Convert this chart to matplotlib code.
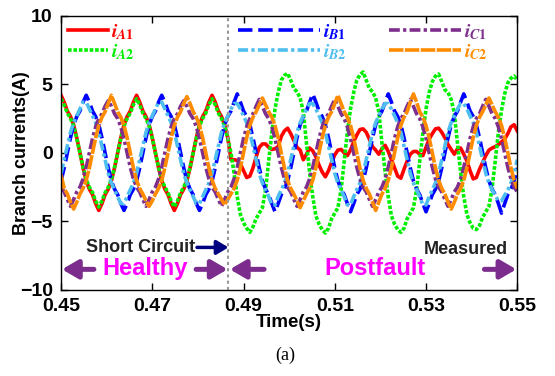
import numpy as np
import matplotlib
matplotlib.use("Agg")
import matplotlib.pyplot as plt

# ---------------- data ----------------
t_start, t_end = 0.45, 0.55
n_samples = 146
fault_time = 0.4867

iA1 = [
    4.2, 3.7, 3.05, 2.65, 2.05, 1.1, 0.0, -1.1, -2.05, -2.65, -3.05, -3.7,
    -4.2, -3.7, -3.05, -2.65, -2.05, -1.1, 0.0, 1.1, 2.05, 2.65, 3.05, 3.7,
    4.2, 3.7, 3.05, 2.65, 2.05, 1.1, 0.0, -1.1, -2.05, -2.65, -3.05, -3.7,
    -4.2, -3.7, -3.05, -2.65, -2.05, -1.1, 0.0, 1.1, 2.05, 2.65, 3.05, 3.7,
    4.2, 3.7, 3.05, 2.65, 2.05, 1.1,
    -0.5, -0.5, -0.55, -0.8, -1.3, -1.8, -1.7, -1.1, -0.3, 0.4, 0.65, 0.65,
    0.4, 0.25, 0.3, 0.45, 1.2, 1.6, 1.8,
    1.4, 0.9, 0.4, 0.2, -0.5, -0.1, 0.35, 0.15, -0.3, -0.9, -1.4, -1.75,
    -1.3, -0.7, -0.15, 0.2, 0.25, 0.0, -0.2, 0.2, 0.8, 1.3, 1.7, 1.75,
    1.5, 1.0, 0.45, 0.2, -0.1, 0.3, 0.55, 0.1, -0.5, -1.1, -1.7, -1.85,
    -1.2, -0.6, -0.1, 0.1, 0.1, -0.1, -0.2, 0.4, 1.0, 1.4, 1.75, 1.8,
    1.5, 1.1, 0.6, 0.25, -0.1, 0.3, 0.35, -0.1, -0.6, -1.3, -1.9, -1.8,
    -1.2, -0.7, -0.2, 0.2, 0.35, 0.45, 0.6, 0.8, 1.0, 1.4, 1.9, 2.05,
    1.6,
]

iA2 = [
    3.95, 3.5, 2.9, 2.5, 1.95, 1.05, 0.0, -1.05, -1.95, -2.5, -2.9, -3.5,
    -3.95, -3.5, -2.9, -2.5, -1.95, -1.05, 0.0, 1.05, 1.95, 2.5, 2.9, 3.5,
    3.95, 3.5, 2.9, 2.5, 1.95, 1.05, 0.0, -1.05, -1.95, -2.5, -2.9, -3.5,
    -3.95, -3.5, -2.9, -2.5, -1.95, -1.05, 0.0, 1.05, 1.95, 2.5, 2.9, 3.5,
    3.95, 3.5, 2.9, 2.5, 1.95, 1.05,
    0.0, -1.5, -3.2, -4.5, -5.1, -5.5, -5.8, -5.4, -4.8, -4.4, -4.0, -2.7,
    -0.6, 1.5, 3.2, 4.4, 5.3, 5.65, 5.8,
    5.3, 4.7, 4.45, 4.0, 3.0, 0.7, -1.4, -3.2, -4.6, -5.2, -5.6, -5.85,
    -5.5, -4.8, -4.4, -4.0, -2.7, -0.6, 1.5, 3.2, 4.4, 5.3, 5.7, 5.9,
    5.3, 4.7, 4.45, 4.0, 3.0, 0.7, -1.4, -3.2, -4.6, -5.2, -5.6, -5.8,
    -5.5, -4.8, -4.4, -4.0, -2.7, -0.6, 1.5, 3.2, 4.4, 5.2, 5.6, 5.75,
    5.2, 4.6, 4.4, 3.9, 2.9, 0.7, -1.4, -3.2, -4.5, -5.1, -5.5, -5.6,
    -5.3, -4.7, -4.3, -3.9, -2.6, -0.6, 1.5, 3.1, 4.3, 5.1, 5.45, 5.6,
    5.3,
]

iB1 = [
    -2.05, -1.1, 0.0, 1.1, 2.05, 2.65, 3.05, 3.7, 4.2, 3.7, 3.05, 2.65,
    2.05, 1.1, 0.0, -1.1, -2.05, -2.65, -3.05, -3.7, -4.2, -3.7, -3.05, -2.65,
    -2.05, -1.1, 0.0, 1.1, 2.05, 2.65, 3.05, 3.7, 4.2, 3.7, 3.05, 2.65,
    2.05, 1.1, 0.0, -1.1, -2.05, -2.65, -3.05, -3.7, -4.2, -3.7, -3.05, -2.65,
    -2.05, -1.1, 0.0, 1.1, 2.05, 2.65, 3.05, 3.7, 4.3, 3.7, 3.05, 2.65,
    2.05, 1.1, 0.0, -1.1, -2.05, -2.65, -3.05, -3.7, -4.3, -3.7, -3.05, -2.65,
    -2.05, -1.1, 0.0, 1.1, 2.05, 2.65, 3.05, 3.7, 4.3, 3.7, 3.05, 2.65,
    2.05, 1.1, 0.0, -1.1, -2.05, -2.65, -3.05, -3.7, -4.3, -3.7, -3.05, -2.65,
    -2.05, -1.1, 0.0, 1.1, 2.05, 2.65, 3.05, 3.7, 4.3, 3.7, 3.05, 2.65,
    2.05, 1.1, 0.0, -1.1, -2.05, -2.65, -3.05, -3.7, -4.3, -3.7, -3.05, -2.65,
    -2.05, -1.1, 0.0, 1.1, 2.05, 2.65, 3.05, 3.7, 4.3, 3.7, 3.05, 2.65,
    2.05, 1.1, 0.0, -1.1, -2.05, -2.65, -3.05, -3.7, -4.4, -3.7, -3.05, -2.65,
    -2.05, -1.1,
]

iB2 = [
    -1.5, -0.5, 0.5, 1.5, 2.2, 2.7, 3.2, 3.7, 3.7, 3.2, 2.7, 2.2,
    1.5, 0.5, -0.5, -1.5, -2.2, -2.7, -3.2, -3.7, -3.7, -3.2, -2.7, -2.2,
    -1.5, -0.5, 0.5, 1.5, 2.2, 2.7, 3.2, 3.7, 3.7, 3.2, 2.7, 2.2,
    1.5, 0.5, -0.5, -1.5, -2.2, -2.7, -3.2, -3.7, -3.7, -3.2, -2.7, -2.2,
    -1.5, -0.5, 0.5, 1.5, 2.2, 2.7, 3.2, 3.6, 3.6, 3.2, 2.7, 2.2,
    1.5, 0.5, -0.5, -1.5, -2.2, -2.7, -3.2, -3.8, -3.8, -3.2, -2.7, -2.2,
    -1.5, -0.5, 0.5, 1.5, 2.2, 2.7, 3.2, 3.6, 3.6, 3.2, 2.7, 2.2,
    1.5, 0.5, -0.5, -1.5, -2.2, -2.7, -3.2, -3.8, -3.8, -3.2, -2.7, -2.2,
    -1.5, -0.5, 0.5, 1.5, 2.2, 2.7, 3.2, 3.6, 3.6, 3.2, 2.7, 2.2,
    1.5, 0.5, -0.5, -1.5, -2.2, -2.7, -3.2, -3.8, -3.8, -3.2, -2.7, -2.2,
    -1.5, -0.5, 0.5, 1.5, 2.2, 2.7, 3.2, 3.6, 3.6, 3.2, 2.7, 2.2,
    1.5, 0.5, -0.5, -1.5, -2.2, -2.7, -3.1, -3.5, -3.5, -3.1, -2.7, -2.2,
    -1.5, -0.5,
]

iC1 = [
    -2.5, -2.85, -3.4, -3.9, -3.4, -2.85, -2.5, -1.9, -1.05, 0.0, 1.05, 1.9,
    2.5, 2.85, 3.4, 3.8, 3.4, 2.85, 2.5, 1.9, 1.05, 0.0, -1.05, -1.9,
    -2.5, -2.85, -3.4, -3.9, -3.4, -2.85, -2.5, -1.9, -1.05, 0.0, 1.05, 1.9,
    2.5, 2.85, 3.4, 3.8, 3.4, 2.85, 2.5, 1.9, 1.05, 0.0, -1.05, -1.9,
    -2.5, -2.85, -3.4, -3.9, -3.4, -2.85, -2.5, -1.9, -1.05, 0.0, 1.05, 1.9,
    2.5, 2.85, 3.4, 3.9, 3.4, 2.85, 2.5, 1.9, 1.05, 0.0, -1.05, -1.9,
    -2.5, -2.85, -3.4, -3.9, -3.4, -2.85, -2.5, -1.9, -1.05, 0.0, 1.05, 1.9,
    2.5, 2.85, 3.4, 3.9, 3.4, 2.85, 2.5, 1.9, 1.05, 0.0, -1.05, -1.9,
    -2.5, -2.85, -3.4, -3.9, -3.4, -2.85, -2.5, -1.9, -1.05, 0.0, 1.05, 1.9,
    2.5, 2.85, 3.4, 3.9, 3.4, 2.85, 2.5, 1.9, 1.05, 0.0, -1.05, -1.9,
    -2.5, -2.85, -3.4, -3.9, -3.4, -2.85, -2.5, -1.9, -1.05, 0.0, 1.05, 1.9,
    2.5, 2.85, 3.4, 3.9, 3.4, 2.85, 2.5, 1.9, 1.05, 0.0, -1.05, -1.9,
    -2.5, -2.85,
]

iC2 = [
    -1.6, -2.6, -3.0, -3.6, -4.1, -3.6, -3.0, -2.6, -2.0, -1.1, 0.0, 1.1,
    2.0, 2.6, 3.0, 3.6, 4.2, 3.6, 3.0, 2.6, 2.0, 1.1, 0.0, -1.1,
    -2.0, -2.6, -3.0, -3.5, -3.9, -3.5, -3.0, -2.6, -2.0, -1.1, 0.0, 1.1,
    2.0, 2.6, 3.0, 3.6, 4.1, 3.6, 3.0, 2.6, 2.0, 1.1, 0.0, -1.1,
    -2.0, -2.6, -3.0, -3.4, -3.8, -3.4, -3.0, -2.6, -2.0, -1.1, 0.0, 1.1,
    2.0, 2.6, 3.0, 3.5, 4.0, 3.5, 3.0, 2.6, 2.0, 1.1, 0.0, -1.1,
    -2.0, -2.6, -3.0, -3.5, -4.0, -3.5, -3.0, -2.6, -2.0, -1.1, 0.0, 1.1,
    2.0, 2.6, 3.0, 3.6, 4.2, 3.6, 3.0, 2.6, 2.0, 1.1, 0.0, -1.1,
    -2.0, -2.6, -3.0, -3.6, -4.2, -3.6, -3.0, -2.6, -2.0, -1.1, 0.0, 1.1,
    2.0, 2.6, 3.0, 3.7, 4.3, 3.7, 3.0, 2.6, 2.0, 1.1, 0.0, -1.1,
    -2.0, -2.6, -3.0, -3.6, -4.1, -3.6, -3.0, -2.6, -2.0, -1.1, 0.0, 1.1,
    2.0, 2.6, 3.0, 3.5, 4.0, 3.5, 3.0, 2.6, 2.0, 1.1, 0.0, -1.1,
    -2.0, -2.6,
]

series_labels = ["$i_{A1}$", "$i_{A2}$", "$i_{B1}$", "$i_{B2}$", "$i_{C1}$", "$i_{C2}$"]
x_ticks = [0.45, 0.47, 0.49, 0.51, 0.53, 0.55]
y_ticks = [-10, -5, 0, 5, 10]

# ---------------- styling ----------------
plt.rcParams["font.family"] = ["Liberation Sans", "DejaVu Sans"]
plt.rcParams["font.weight"] = "bold"
plt.rcParams["axes.labelweight"] = "bold"
plt.rcParams["mathtext.fontset"] = "stix"

c_red = "#FF0000"
c_green = "#00EE00"
c_blue = "#0000FF"
c_lblue = "#4DBEEE"
c_purple = "#7E2F8E"
c_orange = "#FF8C00"
c_arrow = "#7B2C8C"

t = np.linspace(t_start, t_end, n_samples)

fig = plt.figure(figsize=(5.55, 3.76), dpi=100)
ax = fig.add_axes([0.110, 0.229, 0.822, 0.729])

lw = 2.6
lA1, = ax.plot(t, iA1, color=c_red, lw=lw, ls="-")
lA2, = ax.plot(t, iA2, color=c_green, lw=lw, ls=(0, (1.0, 0.5)))
lB1, = ax.plot(t, iB1, color=c_blue, lw=lw, ls=(0, (4.0, 1.6)))
lB2, = ax.plot(t, iB2, color=c_lblue, lw=lw, ls=(0, (2.8, 0.9, 0.9, 0.9)))
lC1, = ax.plot(t, iC1, color=c_purple, lw=lw, ls=(0, (3.0, 0.9, 0.9, 0.9)))
lC2, = ax.plot(t, iC2, color=c_orange, lw=lw, ls=(0, (4.0, 0.4)))

ax.axvline(fault_time, color="#999999", lw=1.5, ls=(0, (1.5, 1.5)))

ax.set_xlim(t_start, t_end)
ax.set_ylim(-10, 10)
ax.set_xticks(x_ticks)
ax.set_xticklabels([f"{v:.2f}" for v in x_ticks])
ax.set_yticks(y_ticks)
ax.tick_params(direction="in", top=True, right=True, length=5, width=1,
               labelsize=14, pad=6)
for s in ax.spines.values():
    s.set_linewidth(1.0)
ax.set_xlabel("Time(s)", fontsize=13.5, labelpad=-1)
ax.set_ylabel("Branch currents(A)", fontsize=13)
ax.yaxis.set_label_coords(-0.068, 0.5)

# legends (three columns)
handles = [lA1, lA2, lB1, lB2, lC1, lC2]
colors = [c_red, c_green, c_blue, c_lblue, c_purple, c_orange]
col_x = [0.122, 0.428, 0.700]
col_hl = [2.0, 4.1, 3.6]
for ci in range(3):
    hs = handles[2 * ci:2 * ci + 2]
    lbs = series_labels[2 * ci:2 * ci + 2]
    leg = fig.legend(hs, lbs, loc="upper left", bbox_to_anchor=(col_x[ci], 0.942),
                     frameon=False, fontsize=14.5, handlelength=col_hl[ci],
                     handletextpad=0.15, labelspacing=0.02, borderpad=0,
                     borderaxespad=0)
    for txt, col in zip(leg.get_texts(), colors[2 * ci:2 * ci + 2]):
        txt.set_color(col)

# annotations
ax.text(0.4794, -6.9, "Short Circuit", ha="right", va="center", fontsize=13,
        fontweight="bold", color="#222222")
ax.annotate("", xy=(fault_time, -6.9), xytext=(0.4798, -6.9),
            arrowprops=dict(arrowstyle="-|>,head_length=0.5,head_width=0.3",
                            color="#000080", lw=2.5, shrinkA=0, shrinkB=0,
                            mutation_scale=14))
ax.text(0.5480, -7.05, "Measured", ha="right", va="center", fontsize=13,
        fontweight="bold", color="#222222")

arrow_kw = dict(arrowstyle="-|>,head_length=0.6,head_width=0.35",
                color=c_arrow, lw=3.6, shrinkA=0, shrinkB=0, mutation_scale=16)
ax.annotate("", xy=(0.4502, -8.5), xytext=(0.4572, -8.5), arrowprops=arrow_kw)
ax.annotate("", xy=(fault_time - 0.0002, -8.5), xytext=(0.4796, -8.5), arrowprops=arrow_kw)
ax.annotate("", xy=(fault_time + 0.0003, -8.5), xytext=(0.4945, -8.5), arrowprops=arrow_kw)
ax.annotate("", xy=(0.5498, -8.5), xytext=(0.5428, -8.5), arrowprops=arrow_kw)
ax.text(0.4684, -8.45, "Healthy", ha="center", va="center", fontsize=17,
        fontweight="bold", color="#FF00FF")
ax.text(0.5189, -8.45, "Postfault", ha="center", va="center", fontsize=17,
        fontweight="bold", color="#FF00FF")

fig.text(0.5135, 0.056, "(a)", ha="center", va="center", fontsize=13,
         family="Liberation Serif", fontweight="normal")

fig.savefig("out.png", dpi=100)
